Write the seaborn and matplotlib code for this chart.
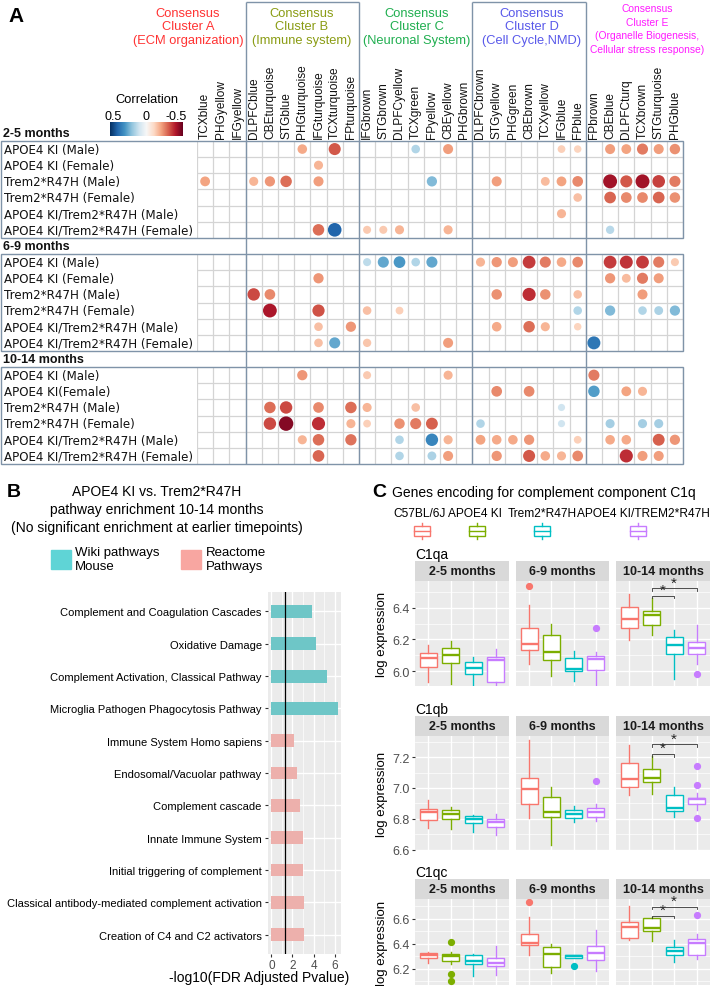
import numpy as np
import pandas as pd
import matplotlib
matplotlib.use("Agg")
import matplotlib.pyplot as plt
import seaborn as sns
from matplotlib.patches import Rectangle

plt.rcParams["font.family"] = ["Liberation Sans", "DejaVu Sans"]

W, H = 710, 987

# ---------------- panel A: module / model correlations ----------------
modules = ["TCXblue", "PHGyellow", "IFGyellow",
           "DLPFCblue", "CBEturquoise", "STGblue", "PHGturquoise", "IFGturquoise", "TCXturquoise", "FPturquoise",
           "IFGbrown", "STGbrown", "DLPFCyellow", "TCXgreen", "FPyellow", "CBEyellow", "PHGbrown",
           "DLPFCbrown", "STGyellow", "PHGgreen", "CBEbrown", "TCXyellow", "IFGblue", "FPblue",
           "FPbrown", "CBEblue", "DLPFCturq", "TCXbrown", "STGturquoise", "PHGblue"]
cluster_sizes = [3, 7, 7, 7, 6]
cluster_titles = ["Consensus\nCluster A\n(ECM organization)",
                  "Consensus\nCluster B\n(Immune system)",
                  "Consensus\nCluster C\n(Neuronal System)",
                  "Consensus\nCluster D\n(Cell Cycle,NMD)",
                  "Consensus\nCluster E\n(Organelle Biogenesis,\nCellular stress response)"]
cluster_colors = ["#ff3333", "#8a9c14", "#1fae4f", "#5959ea", "#ff1aff"]

timepoints = ["2-5 months", "6-9 months", "10-14 months"]
row_labels = ["APOE4 KI (Male)", "APOE4 KI (Female)", "Trem2*R47H (Male)", "Trem2*R47H (Female)",
              "APOE4 KI/Trem2*R47H (Male)", "APOE4 KI/Trem2*R47H (Female)"]
row_labels_late = ["APOE4 KI (Male)", "APOE4 KI(Female)", "Trem2*R47H (Male)", "Trem2*R47H (Female)",
                   "APOE4 KI/Trem2*R47H (Male)", "APOE4 KI/Trem2*R47H (Female)"]

corr_2_5 = [
    {"PHGturquoise": -0.19, "TCXturquoise": -0.31, "TCXgreen": 0.15, "CBEyellow": -0.21, "IFGblue": -0.12,
     "FPblue": -0.11, "CBEblue": -0.21, "DLPFCturq": -0.2, "TCXbrown": -0.26, "STGturquoise": -0.21, "PHGblue": -0.23},
    {"IFGturquoise": -0.17},
    {"TCXblue": -0.2, "DLPFCblue": -0.17, "CBEturquoise": -0.22, "STGblue": -0.28, "IFGturquoise": -0.21,
     "FPyellow": 0.22, "STGyellow": -0.21, "TCXyellow": -0.16, "IFGblue": -0.2, "FPblue": -0.24,
     "CBEblue": -0.42, "DLPFCturq": -0.31, "TCXbrown": -0.42, "STGturquoise": -0.34, "PHGblue": -0.26},
    {"FPblue": -0.15, "CBEblue": -0.29, "DLPFCturq": -0.24, "TCXbrown": -0.24, "STGturquoise": -0.29, "PHGblue": -0.23},
    {"IFGblue": -0.17},
    {"IFGturquoise": -0.28, "TCXturquoise": 0.4, "IFGbrown": -0.13, "STGbrown": -0.13, "DLPFCyellow": -0.17,
     "CBEyellow": -0.17, "CBEblue": 0.14},
]
corr_6_9 = [
    {"IFGbrown": 0.13, "STGbrown": 0.26, "DLPFCyellow": 0.29, "TCXgreen": 0.15, "FPyellow": 0.26,
     "DLPFCbrown": -0.17, "STGyellow": -0.22, "PHGgreen": -0.21, "CBEbrown": -0.35, "TCXyellow": -0.26,
     "IFGblue": -0.19, "FPblue": -0.24, "CBEblue": -0.35, "DLPFCturq": -0.36, "TCXbrown": -0.35,
     "STGturquoise": -0.26, "PHGblue": -0.13},
    {"IFGturquoise": -0.22, "CBEblue": -0.22, "DLPFCturq": -0.16, "TCXbrown": -0.26, "STGturquoise": -0.21},
    {"DLPFCblue": -0.33, "CBEturquoise": -0.24, "STGyellow": -0.23, "CBEbrown": -0.37, "TCXyellow": -0.23,
     "FPblue": -0.15, "TCXbrown": -0.21},
    {"CBEturquoise": -0.41, "IFGturquoise": -0.32, "IFGbrown": -0.15, "DLPFCyellow": -0.12, "FPblue": 0.15,
     "CBEblue": 0.22, "TCXbrown": 0.15, "STGturquoise": 0.16, "PHGblue": 0.22},
    {"IFGturquoise": -0.15, "FPturquoise": -0.22, "STGyellow": -0.19, "CBEbrown": -0.28, "TCXyellow": -0.17,
     "FPblue": -0.11},
    {"IFGturquoise": -0.15, "TCXturquoise": 0.26, "IFGbrown": -0.14, "CBEyellow": -0.21, "FPbrown": 0.36},
]
corr_10_14 = [
    {"PHGturquoise": -0.22, "IFGbrown": -0.13, "CBEyellow": -0.17, "FPbrown": -0.26},
    {"STGyellow": -0.24, "CBEbrown": -0.24, "FPbrown": 0.28, "DLPFCturq": -0.2, "TCXbrown": -0.17},
    {"CBEturquoise": -0.28, "STGblue": -0.33, "IFGturquoise": -0.24, "FPturquoise": -0.28, "IFGbrown": -0.17,
     "TCXgreen": -0.15, "IFGblue": 0.1},
    {"CBEturquoise": -0.33, "STGblue": -0.46, "IFGturquoise": -0.37, "FPturquoise": -0.17, "IFGbrown": -0.12,
     "DLPFCyellow": -0.23, "TCXgreen": -0.26, "FPyellow": -0.3, "DLPFCbrown": 0.15, "IFGblue": 0.1,
     "CBEblue": 0.17, "TCXbrown": 0.17, "STGturquoise": 0.17},
    {"PHGturquoise": -0.17, "IFGturquoise": -0.28, "FPturquoise": -0.27, "DLPFCyellow": 0.15, "FPyellow": 0.33,
     "CBEyellow": -0.17, "DLPFCbrown": -0.2, "STGyellow": -0.19, "PHGgreen": -0.19, "CBEbrown": -0.22,
     "FPblue": -0.12, "CBEblue": -0.19, "DLPFCturq": -0.19, "STGturquoise": -0.3, "PHGblue": -0.22},
    {"IFGturquoise": -0.29, "DLPFCyellow": 0.15, "FPyellow": 0.16, "CBEyellow": -0.21, "STGyellow": -0.22,
     "CBEbrown": -0.31, "TCXyellow": -0.19, "IFGblue": -0.17, "FPblue": -0.24, "DLPFCturq": -0.37,
     "TCXbrown": -0.21, "STGturquoise": -0.21},
]

# ---------------- panel B: pathway enrichment ----------------
pathways = ["Complement and Coagulation Cascades", "Oxidative Damage",
            "Complement Activation, Classical Pathway", "Microglia Pathogen Phagocytosis Pathway",
            "Immune System Homo sapiens", "Endosomal/Vacuolar pathway", "Complement cascade",
            "Innate Immune System", "Initial triggering of complement",
            "Classical antibody-mediated complement activation", "Creation of C4 and C2 activators"]
neg_log_fdr = [3.84, 4.22, 5.3, 6.28, 2.12, 2.44, 2.68, 2.96, 2.99, 3.09, 3.09]
pathway_source = ["Wiki"] * 4 + ["Reactome"] * 7
fdr_cutoff = 1.3

# ---------------- panel C: C1q expression boxes ----------------
genotypes = ["C57BL/6J", "APOE4 KI", "Trem2*R47H", "APOE4 KI/TREM2*R47H"]
geno_colors = ["#F8766D", "#7CAE00", "#00BFC4", "#C77CFF"]
genes = ["C1qa", "C1qb", "C1qc"]
# per gene, per timepoint, per genotype: [whislo, q1, median, q3, whishi]
c1qa_box = [
    [[5.932, 6.025, 6.085, 6.114, 6.165], [5.917, 6.049, 6.104, 6.146, 6.193],
     [5.88, 5.979, 6.017, 6.059, 6.087], [5.903, 5.928, 6.07, 6.091, 6.14]],
    [[6.044, 6.133, 6.171, 6.271, 6.419], [5.966, 6.07, 6.118, 6.229, 6.296],
     [5.934, 6.002, 6.013, 6.08, 6.129], [5.88, 6.006, 6.076, 6.093, 6.118]],
    [[6.199, 6.273, 6.33, 6.408, 6.487], [6.229, 6.294, 6.356, 6.381, 6.461],
     [5.949, 6.108, 6.165, 6.218, 6.26], [6.044, 6.108, 6.146, 6.186, 6.292]],
]
c1qb_box = [
    [[6.742, 6.791, 6.845, 6.867, 6.925], [6.733, 6.798, 6.834, 6.86, 6.877],
     [6.716, 6.774, 6.802, 6.817, 6.824], [6.695, 6.748, 6.781, 6.802, 6.834]],
    [[6.806, 6.899, 6.996, 7.065, 7.308], [6.63, 6.813, 6.845, 6.942, 7.006],
     [6.781, 6.806, 6.834, 6.856, 6.884], [6.787, 6.813, 6.845, 6.871, 6.895]],
    [[6.957, 7.006, 7.056, 7.161, 7.28], [6.961, 7.039, 7.067, 7.12, 7.21],
     [6.813, 6.852, 6.871, 6.953, 7.006], [6.856, 6.899, 6.927, 6.938, 6.968]],
]
c1qc_box = [
    [[6.245, 6.285, 6.307, 6.325, 6.333], [6.235, 6.261, 6.301, 6.315, 6.333],
     [6.139, 6.235, 6.259, 6.307, 6.32], [6.147, 6.221, 6.248, 6.288, 6.381]],
    [[6.312, 6.387, 6.405, 6.48, 6.619], [6.168, 6.213, 6.32, 6.373, 6.395],
     [6.283, 6.285, 6.299, 6.307, 6.309], [6.181, 6.267, 6.325, 6.381, 6.512]],
    [[6.432, 6.445, 6.533, 6.579, 6.707], [6.427, 6.507, 6.525, 6.605, 6.613],
     [6.253, 6.307, 6.341, 6.373, 6.432], [6.28, 6.312, 6.405, 6.44, 6.48]],
]
c1qa_out = [[[], [], [], []], [[6.542], [], [], [6.273]], [[], [], [], [5.981]]]
c1qb_out = [[[], [], [], []], [[], [], [], [7.043]], [[], [], [], [7.142, 7.017, 6.806]]]
c1qc_out = [[[], [6.419, 6.16, 6.101], [], []], [[6.733], [], [6.219], []], [[], [], [], [6.632]]]
gene_boxes = [c1qa_box, c1qb_box, c1qc_box]
gene_outliers = [c1qa_out, c1qb_out, c1qc_out]
gene_ylim = [(5.905, 6.571), (6.598, 7.337), (6.07, 6.76)]
gene_yticks = [[6.0, 6.2, 6.4], [6.6, 6.8, 7.0, 7.2], [6.2, 6.4, 6.6]]
# significance brackets at 10-14 months: (APOE4 vs Trem2, APOE4 vs double)
sig_heights = [(6.478, 6.525), (7.222, 7.282), (6.621, 6.699)]

# ---------------- helpers ----------------
fig = plt.figure(figsize=(W / 100, H / 100), dpi=100)


def axes_px(x0, y0, x1, y1):
    return fig.add_axes([x0 / W, 1 - y1 / H, (x1 - x0) / W, (y1 - y0) / H])


def ftext(x, y, s, **kw):
    return fig.text(x / W, 1 - y / H, s, **kw)


# ================= panel A =================
GX0, GX1, GY0, GY1 = 197, 683, 142, 465
colw = (GX1 - GX0) / 30
rowh = (GY1 - GY0) / 20
axA = axes_px(GX0, GY0, GX1, GY1)


def px2x(px):
    return -0.5 + (px - GX0) / colw


def px2y(py):
    return -0.5 + (py - GY0) / rowh


recs = []
for b, block in enumerate([corr_2_5, corr_6_9, corr_10_14]):
    for r, row in enumerate(block):
        for mod, val in row.items():
            recs.append({"x": modules.index(mod), "y": b * 7 + r, "r": val, "absr": abs(val)})
dots = pd.DataFrame(recs)

light = "#d4d4d4"
dark = "#7f93a8"
for b in range(3):
    y0 = b * 7
    axA.vlines(np.arange(-0.5, 30), y0 - 0.5, y0 + 5.5, color=light, lw=0.9, zorder=1)
    axA.hlines(np.arange(y0 + 0.5, y0 + 5.5), -0.5, 29.5, color=light, lw=0.9, zorder=1)
    axA.add_patch(Rectangle((px2x(1), y0 - 0.5), 29.5 - px2x(1), 6, fill=False,
                            ec=dark, lw=1.0, zorder=3, clip_on=False))
    labels = row_labels_late if b == 2 else row_labels
    for r, lab in enumerate(labels):
        axA.text(px2x(4), y0 + r, lab, ha="left", va="center", fontsize=8.6,
                 family="DejaVu Sans", color="#111111")
    axA.text(px2x(3), y0 - 1, timepoints[b], ha="left", va="center", fontsize=9,
             fontweight="bold", color="#111111")

sns.scatterplot(data=dots, x="x", y="y", hue="r", palette="RdBu", hue_norm=(-0.5, 0.5),
                size="absr", sizes=(22, 108), size_norm=(0.08, 0.45), linewidth=0,
                legend=False, ax=axA, zorder=4, clip_on=False)

# cluster separators and boxes around clusters B and D
edges = np.cumsum(cluster_sizes)[:-1] - 0.5
ytop = px2y(3)
axA.vlines(edges, ytop, 19.5, color=dark, lw=1.0, zorder=3, clip_on=False)
axA.hlines([ytop, ytop], [edges[0], edges[2]], [edges[1], edges[3]], color=dark, lw=1.0,
           zorder=3, clip_on=False)

title_x = [188, 302, 417, 532, 647]
for k, (t, c) in enumerate(zip(cluster_titles, cluster_colors)):
    if k == 4:
        axA.text(px2x(title_x[k]), px2y(29.5), t, ha="center", va="center", color=c, fontsize=7.4,
                 linespacing=1.45)
    else:
        axA.text(px2x(title_x[k]), px2y(27.5), t, ha="center", va="center", color=c, fontsize=9.3,
                 linespacing=1.2)

for i, m in enumerate(modules):
    axA.text(i, px2y(139), m, rotation=90, ha="center", va="bottom", fontsize=8.6, color="#111111")

axA.set_xlim(-0.5, 29.5)
axA.set_ylim(19.5, -0.5)
axA.axis("off")

# colorbar
axCB = axes_px(110, 123, 182, 137)
axCB.imshow(np.linspace(0.5, -0.5, 256)[None, :], cmap="RdBu", vmin=-0.5, vmax=0.5, aspect="auto")
axCB.axis("off")
ftext(147, 100, "Correlation", ha="center", va="center", fontsize=9.3)
for lab, xp in zip(["0.5", "0", "-0.5"], [113, 146, 176]):
    ftext(xp, 117, lab, ha="center", va="center", fontsize=9)
ftext(8, 16, "A", ha="left", va="center", fontsize=15, fontweight="bold")

# ================= panel B =================
ftext(7, 493, "B", ha="left", va="center", fontsize=14, fontweight="bold")
for line, yp in zip(["APOE4 KI vs. Trem2*R47H", "pathway enrichment 10-14 months",
                     "(No significant enrichment at earlier timepoints)"], [492, 510, 528]):
    ftext(157, yp, line, ha="center", va="center", fontsize=10)
src_colors = {"Wiki": "#5fd4d6", "Reactome": "#f8a6a1"}
fig.patches.append(Rectangle((51 / W, 1 - 570 / H), 20 / W, 19 / H, color=src_colors["Wiki"],
                             transform=fig.transFigure))
fig.patches.append(Rectangle((181 / W, 1 - 570 / H), 20 / W, 19 / H, color=src_colors["Reactome"],
                             transform=fig.transFigure))
ftext(75, 560, "Wiki pathways\nMouse", ha="left", va="center", fontsize=9.5, linespacing=1.2)
ftext(206, 560, "Reactome\nPathways", ha="left", va="center", fontsize=9.5, linespacing=1.2)

axB = axes_px(268, 593, 341, 955)
axB.set_facecolor("#ebebeb")
sns.barplot(x=neg_log_fdr, y=pathways, hue=pathway_source, palette=src_colors, dodge=False,
            width=0.4, legend=False, orient="h", ax=axB, zorder=3)
axB.axvline(fdr_cutoff, color="black", lw=0.9, zorder=4)
axB.set_xlim(-0.32, 6.6)
axB.set_ylim(10.6, -0.6)
axB.set_xticks([0, 2, 4, 6])
axB.set_xticks([1, 3, 5], minor=True)
axB.grid(which="major", axis="both", color="white", lw=1.0, zorder=0)
axB.grid(which="minor", axis="x", color="white", lw=0.5, zorder=0)
axB.set_axisbelow(True)
for s in axB.spines.values():
    s.set_visible(False)
axB.tick_params(axis="y", labelsize=8, colors="#333333", labelcolor="black", length=2.5, pad=2)
axB.tick_params(axis="x", which="major", labelsize=8.5, colors="#333333", labelcolor="#4d4d4d",
                length=2.5, pad=1)
axB.tick_params(axis="x", which="minor", length=0)
axB.set_xlabel("")
axB.set_ylabel("")
ftext(259, 978, "-log10(FDR Adjusted Pvalue)", ha="center", va="center", fontsize=10)

# ================= panel C =================
ftext(372, 493, "C", ha="left", va="center", fontsize=14, fontweight="bold")
ftext(392, 493, "Genes encoding for complement component C1q", ha="left", va="center", fontsize=10)
for g, (lab, col, lx, gx) in enumerate(zip(genotypes, geno_colors, [420, 475, 542, 643],
                                           [422, 477, 542, 638])):
    ftext(lx, 514, lab, ha="center", va="center", fontsize=8.6)
    fig.patches.append(Rectangle(((gx - 8) / W, 1 - 537 / H), 16 / W, 10 / H, fill=False,
                                 ec=col, lw=1.0, transform=fig.transFigure))
    fig.lines.append(plt.Line2D([(gx - 8) / W, (gx + 8) / W], [1 - 532 / H] * 2, color=col, lw=1.0,
                                transform=fig.transFigure))
    fig.lines.append(plt.Line2D([gx / W] * 2, [1 - 524 / H, 1 - 527 / H], color=col, lw=1.0,
                                transform=fig.transFigure))
    fig.lines.append(plt.Line2D([gx / W] * 2, [1 - 537 / H, 1 - 540 / H], color=col, lw=1.0,
                                transform=fig.transFigure))

col_x = [(415, 509), (516, 609), (616, 710)]
row_y = [(582, 687), (737, 851), (900, 986)]
strip_h = 20
label_y = [555, 710, 873]
for gi in range(3):
    y0, y1 = row_y[gi]
    ftext(415, label_y[gi], genes[gi], ha="left", va="center", fontsize=10)
    ftext(382, (y0 + y1) / 2, "log expression", rotation=90, ha="center", va="center", fontsize=9.5)
    lo, hi = gene_ylim[gi]
    for ti in range(3):
        x0, x1 = col_x[ti]
        st = axes_px(x0, y0 - strip_h, x1, y0)
        st.set_facecolor("#d9d9d9")
        st.set_xticks([])
        st.set_yticks([])
        for s in st.spines.values():
            s.set_visible(False)
        st.text(0.5, 0.5, timepoints[ti], ha="center", va="center", fontsize=9, fontweight="bold",
                color="#1a1a1a", transform=st.transAxes)

        ax = axes_px(x0, y0, x1, y1)
        ax.set_facecolor("#ebebeb")
        stats = []
        for k in range(4):
            wl, q1, md, q3, wh = gene_boxes[gi][ti][k]
            stats.append({"whislo": wl, "q1": q1, "med": md, "q3": q3, "whishi": wh,
                          "fliers": gene_outliers[gi][ti][k]})
        art = ax.bxp(stats, positions=[1, 2, 3, 4], widths=0.75, patch_artist=True, showcaps=False,
                     zorder=3)
        for k in range(4):
            c = geno_colors[k]
            art["boxes"][k].set(facecolor="white", edgecolor=c, lw=1.0)
            art["medians"][k].set(color=c, lw=1.7)
            for wk in art["whiskers"][2 * k:2 * k + 2]:
                wk.set(color=c, lw=1.0)
            art["fliers"][k].set(marker="o", markerfacecolor=c, markeredgecolor=c, markersize=4.2)
        if ti == 2:
            h1, h2 = sig_heights[gi]
            tip = 0.025 * (hi - lo)
            for (a, bb), hh in zip([(2, 3), (2, 4)], [h1, h2]):
                ax.plot([a, a, bb, bb], [hh - tip, hh, hh, hh - tip], color="#333333", lw=0.6, zorder=4)
                ax.text((a + bb) / 2, hh - 0.01 * (hi - lo), "*", ha="center", va="bottom",
                        fontsize=11, color="#222222")
        ax.set_xlim(0.4, 4.6)
        ax.set_ylim(lo, hi)
        ax.set_xticks([1, 2, 3, 4])
        ax.set_xticklabels([])
        ax.tick_params(axis="x", length=0)
        ax.set_yticks(gene_yticks[gi])
        minor = [v + 0.1 for v in gene_yticks[gi]] + [gene_yticks[gi][0] - 0.1]
        ax.set_yticks([m for m in minor if lo < m < hi], minor=True)
        ax.grid(which="major", color="white", lw=1.0, zorder=0)
        ax.grid(which="minor", axis="y", color="white", lw=0.5, zorder=0)
        ax.set_axisbelow(True)
        for s in ax.spines.values():
            s.set_visible(False)
        ax.tick_params(axis="y", which="minor", length=0)
        if ti == 0:
            ax.tick_params(axis="y", which="major", labelsize=9, colors="#333333",
                           labelcolor="#4d4d4d", length=2.5, pad=1.5)
        else:
            ax.tick_params(axis="y", which="major", length=0, labelleft=False)

fig.savefig("out.png", dpi=100)
